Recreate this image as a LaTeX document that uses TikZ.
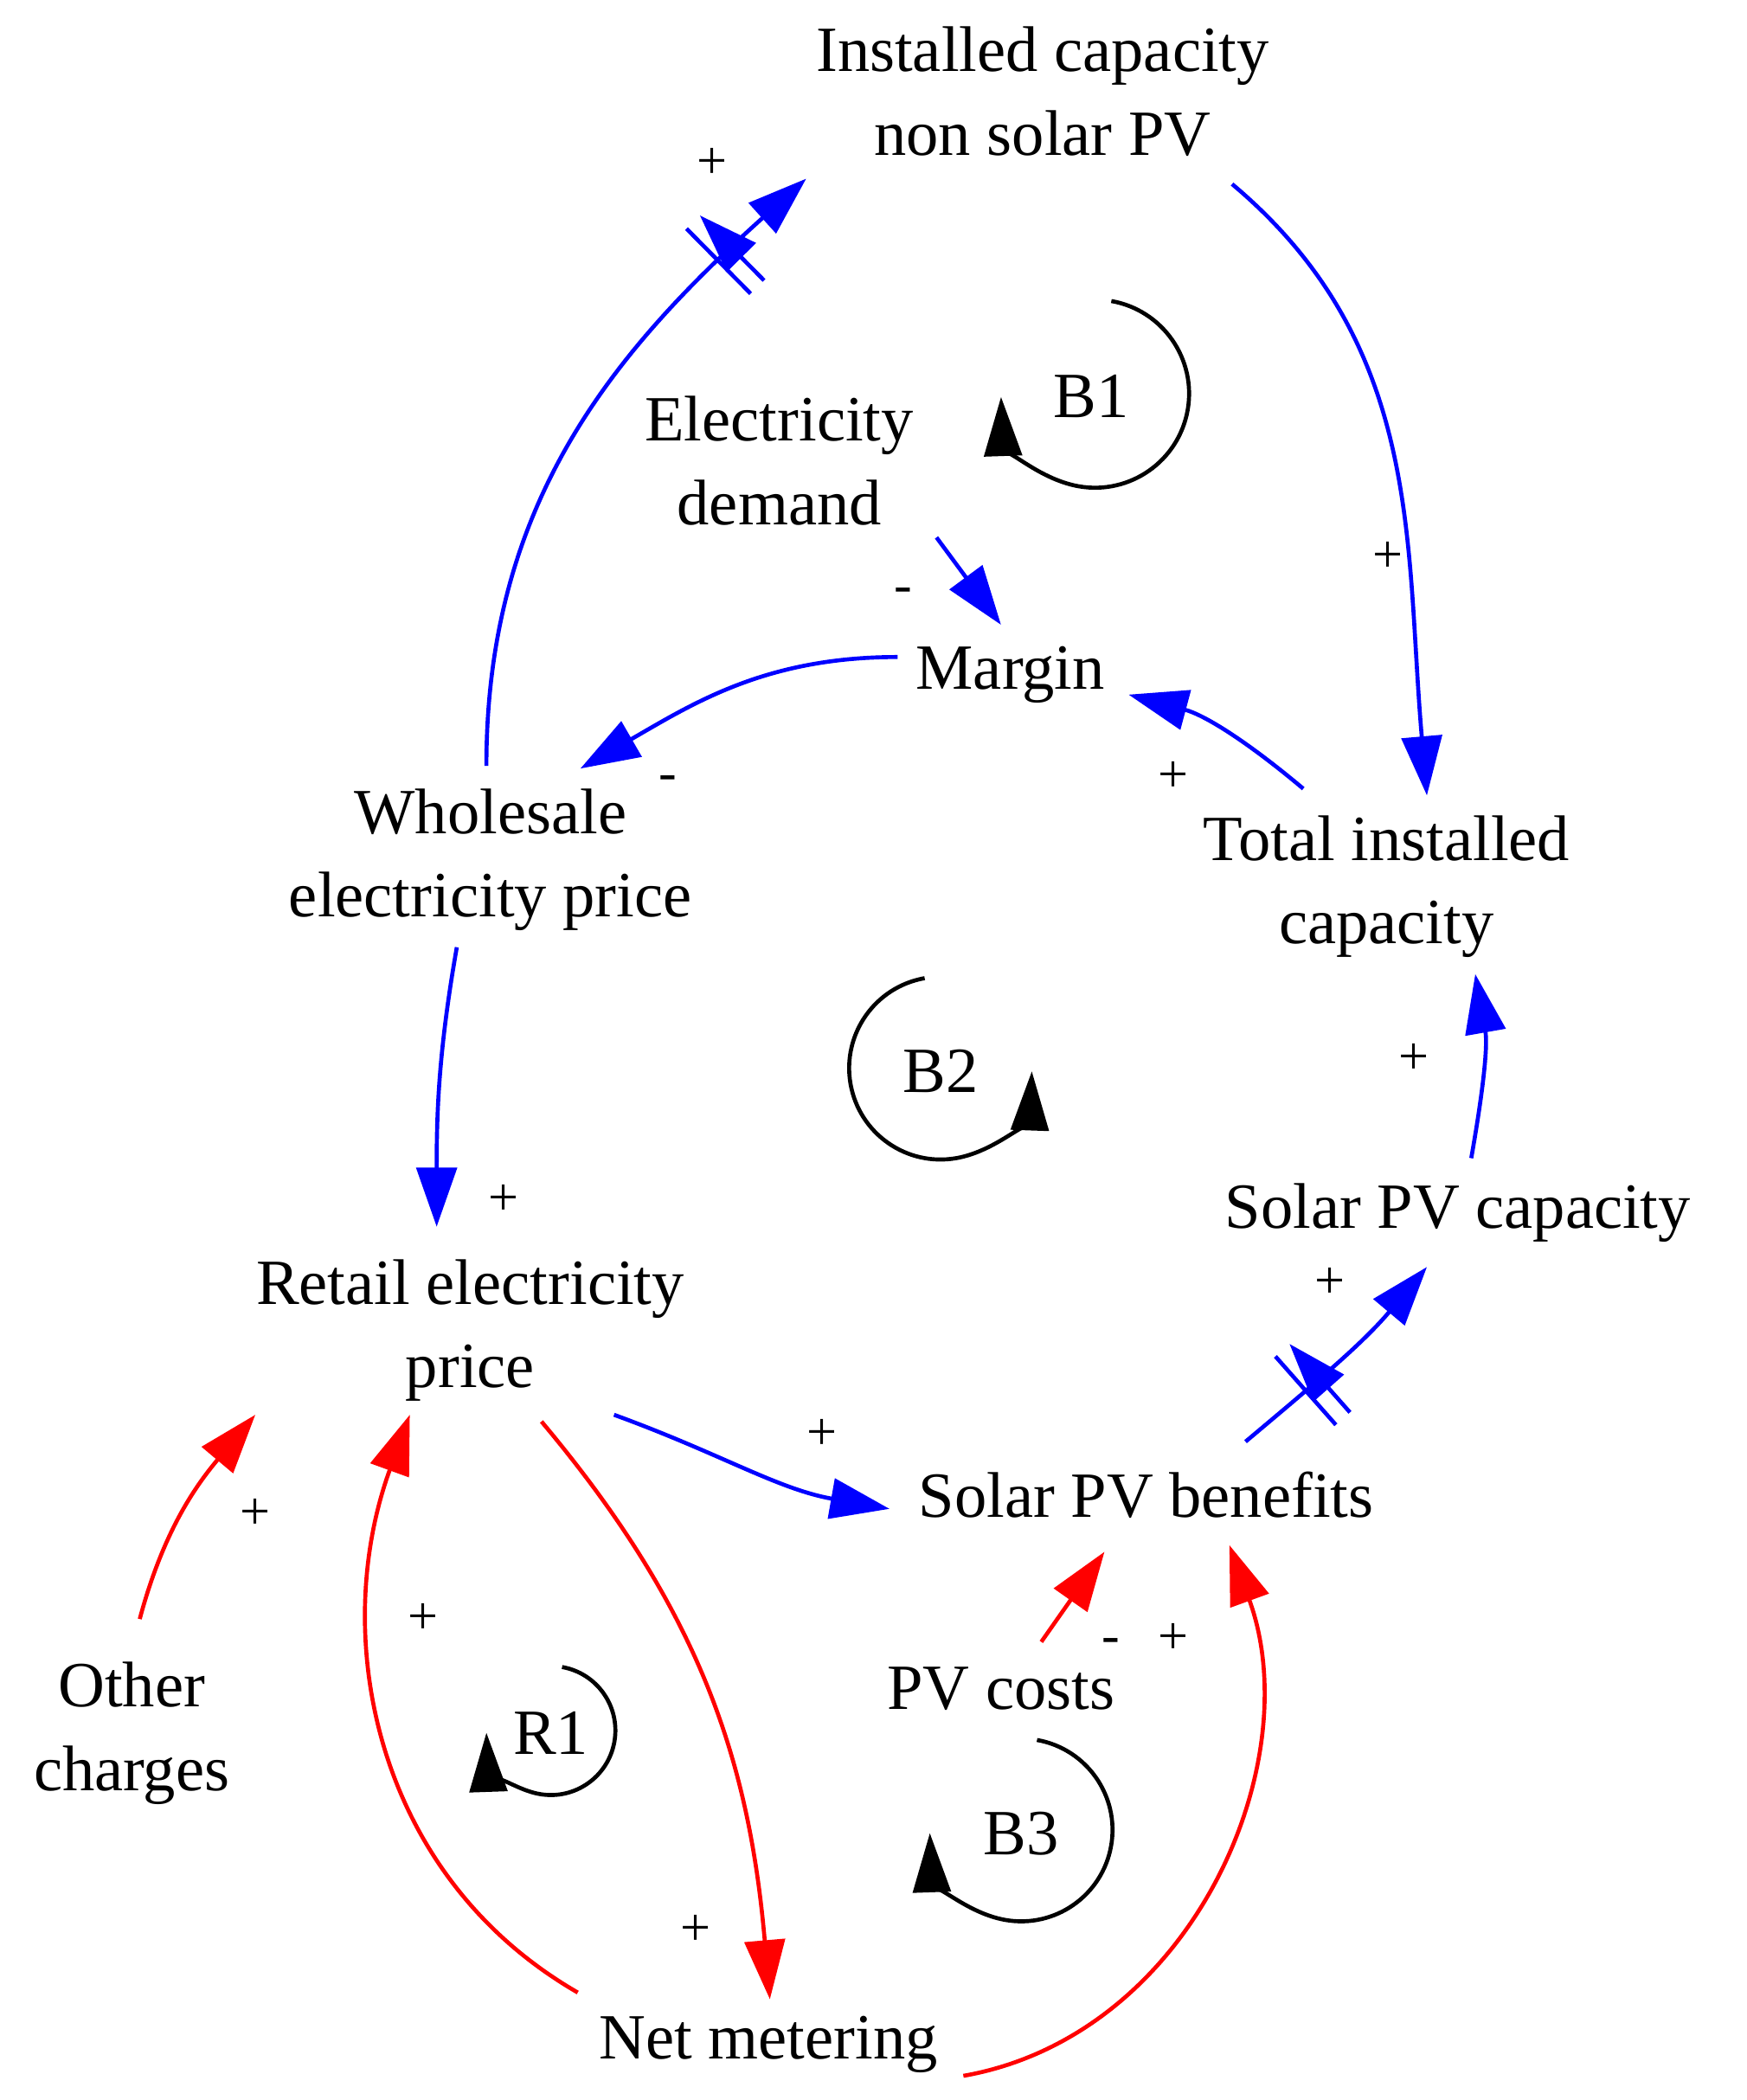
\documentclass[tikz,border=0pt]{standalone}
\usepackage{fontspec}
\setmainfont{Liberation Serif}
\usetikzlibrary{arrows.meta,decorations.markings}
\begin{document}
\begin{tikzpicture}[x=1pt,y=1pt,
  txt/.style={font=\fontsize{48}{62}\selectfont,align=center,inner sep=0pt},
  sgn/.style={font=\fontsize{40}{44}\selectfont,inner sep=0pt},
  lk/.style={line width=3pt,-{Triangle[length=44pt,width=30pt]}},
  bl/.style={lk,blue},
  rd/.style={lk,red},
  lp/.style={line width=3pt,black,-{Triangle[length=44pt,width=28pt]}},
  delay/.style={postaction={decorate},decoration={markings,mark=at position #1 with {\draw[line width=3pt] (-7,-34)--(-7,34) (7,-34)--(7,34);}}}]
\useasboundingbox (0,0) rectangle (1300,-1563);
\node[txt] (inst) at (776,-68) {Installed capacity\\non solar PV};
\node[txt] (dem) at (580,-343) {Electricity\\demand};
\node[txt] (mar) at (752,-502) {Margin};
\node[txt] (who) at (365,-640) {Wholesale\\electricity price};
\node[txt] (tot) at (1032,-660) {Total installed\\capacity};
\node[txt] (ret) at (350,-990) {Retail electricity\\price};
\node[txt] (spc) at (1085,-903) {Solar PV capacity};
\node[txt] (spb) at (853,-1113) {Solar PV benefits};
\node[txt] (oth) at (98,-1290) {Other\\charges};
\node[txt] (pvc) at (745,-1257) {PV costs};
\node[txt] (net) at (572,-1522) {Net metering};
% endpoints
\coordinate (a1) at (362,-570); \coordinate (b1) at (600,-133);
\coordinate (a2) at (917,-137); \coordinate (b2) at (1062,-592);
\coordinate (a3) at (697,-400); \coordinate (b3) at (745,-465);
\coordinate (a4) at (668,-489); \coordinate (b4) at (432,-572);
\coordinate (a5) at (970,-587); \coordinate (b5) at (840,-517);
\coordinate (a6) at (340,-705); \coordinate (b6) at (325,-913);
\coordinate (a7) at (1095,-862); \coordinate (b7) at (1098,-725);
\coordinate (a8) at (927,-1073); \coordinate (b8) at (1062,-943);
\coordinate (a9) at (457,-1053); \coordinate (b9) at (662,-1123);
\coordinate (a10) at (104,-1205); \coordinate (b10) at (190,-1053);
\coordinate (a11) at (430,-1483); \coordinate (b11) at (305,-1053);
\coordinate (a12) at (403,-1058); \coordinate (b12) at (573,-1488);
\coordinate (a13) at (775,-1222); \coordinate (b13) at (822,-1155);
\coordinate (a14) at (717,-1545); \coordinate (b14) at (915,-1150);
\draw[bl,delay=0.84] (a1) to[out=90,in=222] (b1);
\draw[bl] (a2) to[out=-40,in=95] (b2);
\draw[bl] (a3) -- (b3);
\draw[bl] (a4) to[out=180,in=30] (b4);
\draw[bl] (a5) to[out=140,in=-15] (b5);
\draw[bl] (a6) to[out=-100,in=90] (b6);
\draw[bl] (a7) to[out=80,in=-80] (b7);
\draw[bl,delay=0.35] (a8) to[out=40,in=230] (b8);
\draw[bl] (a9) to[out=-20,in=170] (b9);
\draw[rd] (a10) to[out=75,in=230] (b10);
\draw[rd] (a11) to[out=150,in=250] (b11);
\draw[rd] (a12) to[out=-50,in=95] (b12);
\draw[rd] (a13) -- (b13);
\draw[rd] (a14) to[out=10,in=-70] (b14);
% signs
\node[sgn] (s1) at (530,-122) {+};
\node[sgn] (s2) at (1033,-415) {+};
\node[sgn] (s3) at (672,-443) {-};
\node[sgn] (s4) at (497,-583) {-};
\node[sgn] (s5) at (873,-578) {+};
\node[sgn] (s6) at (375,-893) {+};
\node[sgn] (s7) at (1052,-788) {+};
\node[sgn] (s8) at (990,-955) {+};
\node[sgn] (s9) at (612,-1068) {+};
\node[sgn] (s10) at (190,-1127) {+};
\node[sgn] (s11) at (315,-1205) {+};
\node[sgn] (s12) at (518,-1437) {+};
\node[sgn] (s13) at (827,-1225) {-};
\node[sgn] (s14) at (873,-1220) {+};
% loops
\draw[lp] (815,-293) ++(80:70) arc[start angle=80,end angle=-178,radius=70];
\node[txt] (B1) at (812,-295) {B1};
\draw[lp] (700,-795) ++(100:68) arc[start angle=100,end angle=358,radius=68];
\node[txt] (B2) at (700,-797) {B2};
\draw[lp] (410,-1288) ++(80:48) arc[start angle=80,end angle=-178,radius=48];
\node[txt] (R1) at (410,-1290) {R1};
\draw[lp] (760,-1362) ++(80:68) arc[start angle=80,end angle=-178,radius=68];
\node[txt] (B3) at (760,-1365) {B3};
\end{tikzpicture}
\end{document}
